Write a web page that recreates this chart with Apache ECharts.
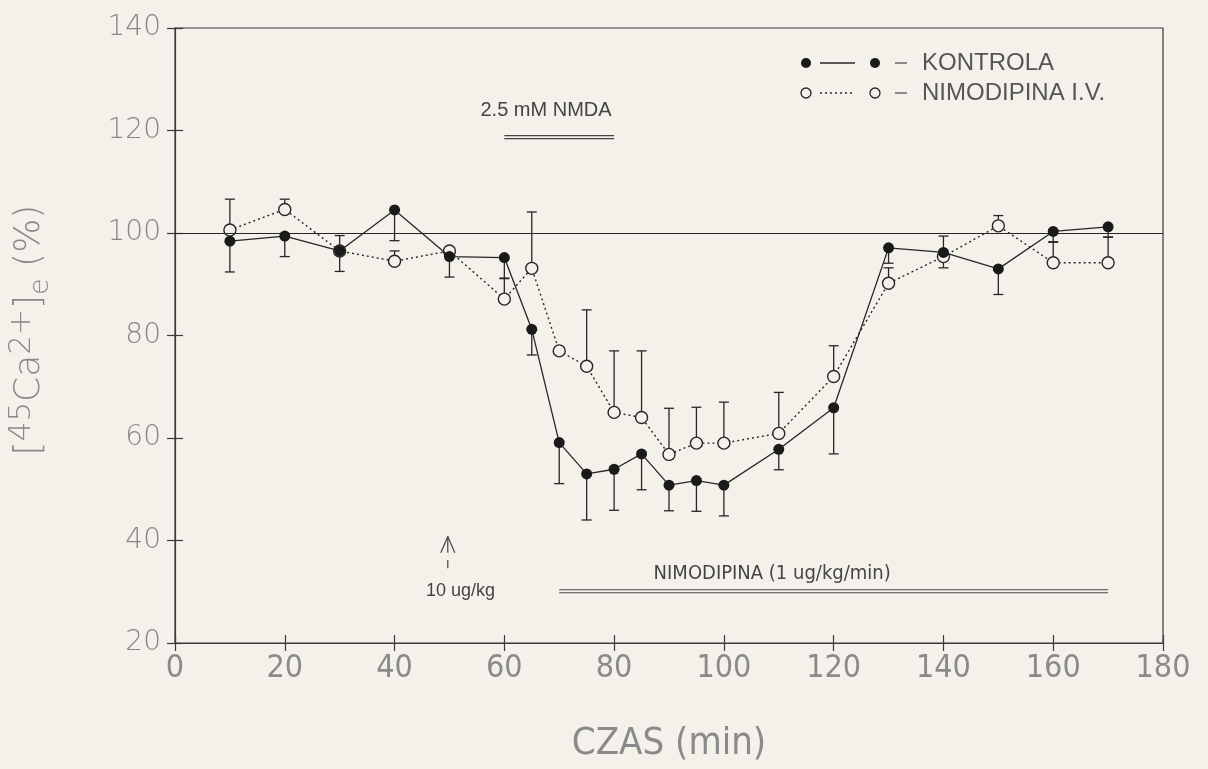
<!DOCTYPE html>
<html><head><meta charset="utf-8">
<script src="https://cdn.jsdelivr.net/npm/echarts@6/dist/echarts.min.js"></script>
<style>html,body{margin:0;padding:0;background:#f3f1ea}#c{width:1208px;height:769px}</style>
</head><body><div id="c"></div>
<script>
// ---- data ----
const times = [10,20,30,40,50,60,65,70,75,80,85,90,95,100,110,120,130,140,150,160,170];
const kontrola = [98.4,99.4,96.5,104.5,95.4,95.2,81.2,59.1,53,53.9,56.9,50.8,51.7,50.8,57.8,65.9,97.1,96.2,93,100.3,101.2];
const kontrolaErr = [6,4,4,6,4,4,5,8,9,8,7,5,6,6,4,9,3,3,5,2,2];
const nimodipina = [100.6,104.6,96.5,94.5,96.5,87.1,93.1,77,74,65,64,56.8,59,59,60.9,72,90.2,95.4,101.4,94.2,94.2];
const nimodipinaErr = [6,2,3,2,0,4,11,0,11,12,13,9,7,8,8,6,3,4,2,4,5];
const xTicks = [0,180,20];   // min, max, interval
const yTicks = [20,140,20];
const refLevel = 100;
const nmdaBar = [60,80,118.7];       // x1, x2, y
const nmdaLabel = [67.6,124,'2.5 mM NMDA'];
const nimoBar = [70,170,30.1];
const nimoLabel = [108.8,33.6,'NIMODIPINA (1 ug/kg/min)'];
const bolusArrow = [49.7,40.8,37.6,36.2,34.6];  // x, tip, base, stem top, stem bottom
const bolusLabel = [52,30.2,'10 ug/kg'];
const legendNames = ['KONTROLA','NIMODIPINA I.V.'];

const BG = '#f3f1ea', INK = '#262626', AX = '#3a3a3a';
const NARROW = '"DejaVu Sans Condensed", Roboto';

function errSeries(vals, errs, dir, z){
  return {
    type:'custom', silent:true, z:z, clip:false,
    encode:{x:0,y:1},
    data: times.map((t,i)=>[t, vals[i], errs[i]]),
    renderItem(params, api){
      const x=api.value(0), v=api.value(1), e=api.value(2);
      if(!e) return null;
      const p0=api.coord([x,v]), p1=api.coord([x,v+dir*e]);
      const st={stroke:INK,lineWidth:1.3};
      return {type:'group',children:[
        {type:'line',shape:{x1:p0[0],y1:p0[1],x2:p1[0],y2:p1[1]},style:st},
        {type:'line',shape:{x1:p1[0]-5,y1:p1[1],x2:p1[0]+5,y2:p1[1]},style:st}
      ]};
    }
  };
}

const annotSeries = {
  type:'custom', silent:true, clip:false, z:3,
  encode:{x:0,y:1},
  data:[[0,0]],
  renderItem(params, api){
    const ch=[];
    const st={stroke:'#444',lineWidth:1.2};
    function dbl(b){
      const a=api.coord([b[0],b[2]]), c=api.coord([b[1],b[2]]);
      ch.push({type:'line',shape:{x1:a[0],y1:a[1]-1.5,x2:c[0],y2:c[1]-1.5},style:st});
      ch.push({type:'line',shape:{x1:a[0],y1:a[1]+1.5,x2:c[0],y2:c[1]+1.5},style:st});
    }
    dbl(nmdaBar); dbl(nimoBar);
    const t1=api.coord([nmdaLabel[0],nmdaLabel[1]]);
    ch.push({type:'text',x:t1[0],y:t1[1],style:{text:nmdaLabel[2],fill:'#444',font:'20px "Liberation Sans"',textAlign:'center',textVerticalAlign:'middle'}});
    const t2=api.coord([nimoLabel[0],nimoLabel[1]]);
    ch.push({type:'text',x:t2[0],y:t2[1],style:{text:nimoLabel[2],fill:'#444',font:'20px '+NARROW,textAlign:'center',textVerticalAlign:'middle'}});
    const tip=api.coord([bolusArrow[0],bolusArrow[1]]), base=api.coord([bolusArrow[0],bolusArrow[2]]);
    const s1=api.coord([bolusArrow[0],bolusArrow[3]]), s2=api.coord([bolusArrow[0],bolusArrow[4]]);
    ch.push({type:'line',shape:{x1:tip[0],y1:tip[1],x2:base[0],y2:base[1]},style:st});
    ch.push({type:'line',shape:{x1:tip[0],y1:tip[1],x2:base[0]-7,y2:base[1]},style:st});
    ch.push({type:'line',shape:{x1:tip[0],y1:tip[1],x2:base[0]+7,y2:base[1]},style:st});
    ch.push({type:'line',shape:{x1:s1[0],y1:s1[1],x2:s2[0],y2:s2[1]},style:st});
    const t3=api.coord([bolusLabel[0],bolusLabel[1]]);
    ch.push({type:'text',x:t3[0],y:t3[1],style:{text:bolusLabel[2],fill:'#444',font:'18px "Liberation Sans"',textAlign:'center',textVerticalAlign:'middle'}});
    return {type:'group',children:ch};
  }
};

const chart = echarts.init(document.getElementById('c'), null, {renderer:'canvas'});
const axLine = {lineStyle:{color:AX,width:1.2}};
chart.setOption({
  backgroundColor: BG,
  animation:false,
  grid:{left:175,right:45,top:28,bottom:126,show:true,borderColor:AX,borderWidth:1.2,backgroundColor:'transparent'},
  xAxis:[{
    type:'value',min:xTicks[0],max:xTicks[1],interval:xTicks[2],
    axisLine:axLine,axisTick:{length:8,lineStyle:{color:AX,width:1.2}},
    axisLabel:{fontSize:32,color:'#8a8a8a',fontFamily:NARROW,fontWeight:300,margin:10},
    splitLine:{show:false},
    name:'CZAS (min)',nameLocation:'middle',nameGap:82,
    nameTextStyle:{fontSize:38,color:'#8a8a8a',fontFamily:NARROW,fontWeight:300}
  },{
    type:'value',min:xTicks[0],max:xTicks[1],interval:xTicks[2],position:'bottom',
    axisLine:{show:false},axisTick:{inside:true,length:8,lineStyle:{color:AX,width:1.2}},
    axisLabel:{show:false},splitLine:{show:false}
  }],
  yAxis:[{
    type:'value',min:yTicks[0],max:yTicks[1],interval:yTicks[2],
    axisLine:{show:true,...axLine},axisTick:{show:true,length:8,lineStyle:{color:AX,width:1.2}},
    axisLabel:{fontSize:28,color:'#888',fontFamily:'"DejaVu Sans"',fontWeight:200,margin:14},
    splitLine:{show:false}
  },{
    type:'value',min:yTicks[0],max:yTicks[1],interval:yTicks[2],position:'left',
    axisLine:{show:false},axisTick:{show:true,inside:true,length:8,lineStyle:{color:AX,width:1.2}},
    axisLabel:{show:false},splitLine:{show:false}
  }],
  series:[
    errSeries(nimodipina, nimodipinaErr, 1, 2),
    errSeries(kontrola, kontrolaErr, -1, 2),
    {
      type:'line',name:legendNames[1],z:4,
      data:times.map((t,i)=>[t,nimodipina[i]]),
      symbol:'circle',symbolSize:12,
      lineStyle:{color:INK,width:1.4,type:[2,3]},
      itemStyle:{color:BG,borderColor:INK,borderWidth:1.4},
      markLine:{silent:true,symbol:'none',label:{show:false},
        lineStyle:{color:INK,width:1.2,type:'solid'},data:[{yAxis:refLevel}]}
    },
    {
      type:'line',name:legendNames[0],z:5,
      data:times.map((t,i)=>[t,kontrola[i]]),
      symbol:'circle',symbolSize:11,
      lineStyle:{color:INK,width:1.3,type:'solid'},
      itemStyle:{color:'#1a1a1a',borderWidth:0}
    },
    annotSeries
  ],
  graphic:[
    {type:'text',x:30,y:330,rotation:Math.PI/2,
      style:{text:'{n|[}{s|45}{n|Ca}{s|2+}{n|]}{b|e}{n| (%)}',textAlign:'center',textVerticalAlign:'middle',
        rich:{
          n:{fontSize:36,fontFamily:'"DejaVu Sans"',fontWeight:200,fill:'#888',lineHeight:48,verticalAlign:'middle'},
          s:{fontSize:31,fontFamily:'"DejaVu Sans"',fontWeight:200,fill:'#888',lineHeight:48,verticalAlign:'top'},
          b:{fontSize:27,fontFamily:'"DejaVu Sans"',fontWeight:200,fill:'#888',lineHeight:48,verticalAlign:'bottom'}
        }}},
    // legend row 1
    {type:'circle',shape:{cx:806,cy:63,r:5},style:{fill:'#1a1a1a'}},
    {type:'line',shape:{x1:820,y1:63,x2:855,y2:63},style:{stroke:INK,lineWidth:1.3}},
    {type:'circle',shape:{cx:875,cy:63,r:5},style:{fill:'#1a1a1a'}},
    {type:'line',shape:{x1:895,y1:63,x2:907,y2:63},style:{stroke:'#555',lineWidth:1.3}},
    {type:'text',x:922,y:63,style:{text:legendNames[0],font:'24px "Liberation Sans"',fill:'#555',textVerticalAlign:'middle'}},
    // legend row 2
    {type:'circle',shape:{cx:806,cy:93,r:5},style:{fill:BG,stroke:INK,lineWidth:1.3}},
    {type:'line',shape:{x1:820,y1:93,x2:855,y2:93},style:{stroke:INK,lineWidth:1.3,lineDash:[2,3]}},
    {type:'circle',shape:{cx:875,cy:93,r:5},style:{fill:BG,stroke:INK,lineWidth:1.3}},
    {type:'line',shape:{x1:895,y1:93,x2:907,y2:93},style:{stroke:'#555',lineWidth:1.3}},
    {type:'text',x:922,y:93,style:{text:legendNames[1],font:'24px "Liberation Sans"',fill:'#555',textVerticalAlign:'middle'}}
  ]
});
</script></body></html>
